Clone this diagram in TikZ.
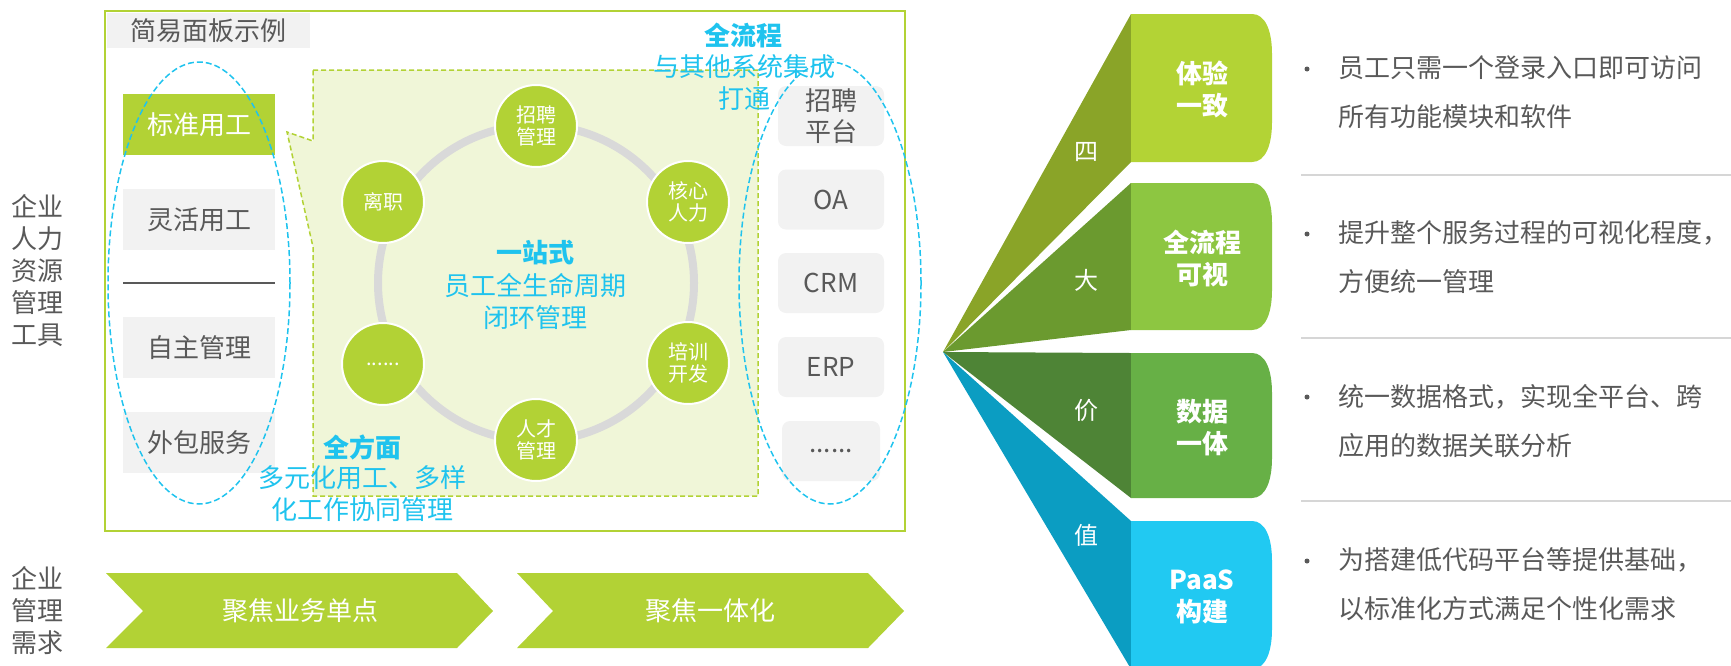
\documentclass[tikz,border=0pt]{standalone}
\usepackage{fontspec}
\setmainfont{Noto Sans CJK SC}
\newcommand\myfs[2]{\fontsize{#1}{#2}\selectfont}
\definecolor{lime}{HTML}{B2D235}
\definecolor{calfill}{HTML}{F0F6D8}
\definecolor{boxgray}{HTML}{F2F2F2}
\definecolor{txtgray}{HTML}{595959}
\definecolor{cyantxt}{HTML}{1FC3EE}
\definecolor{ringgray}{HTML}{D9D9D9}
\definecolor{triA}{HTML}{8AA428}
\definecolor{boxA}{HTML}{B3D335}
\definecolor{triB}{HTML}{6B9A2F}
\definecolor{boxB}{HTML}{8DC641}
\definecolor{triC}{HTML}{4E8436}
\definecolor{boxC}{HTML}{67B046}
\definecolor{triD}{HTML}{0B9DC2}
\definecolor{boxD}{HTML}{21C9F2}
\definecolor{sepgray}{HTML}{D6D6D6}
\begin{document}
\begin{tikzpicture}[x=1pt,y=-1pt,
  lbox/.style={fill=boxgray, minimum width=152pt, minimum height=61pt, inner sep=0pt, text=txtgray, font=\myfs{26}{31}},
  gbox/.style={lbox, fill=lime, text=white},
  rbox/.style={fill=boxgray, rounded corners=8pt, minimum width=106pt, minimum height=60pt, inner sep=0pt, text=txtgray, font=\myfs{26}{31}, align=center},
  circ/.style={circle, fill=lime, draw=white, line width=2pt, minimum size=82pt, inner sep=0pt, text=white, font=\myfs{20}{22}, align=center},
  cyanbold/.style={text=cyantxt, font=\bfseries\myfs{26}{32}, inner sep=0pt},
  cyanreg/.style={text=cyantxt, font=\myfs{26}{32}, align=center, inner sep=0pt},
  grayt/.style={text=txtgray, font=\myfs{26}{32}, align=center, inner sep=0pt},
  blueell/.style={draw=cyantxt, line width=1.5pt, dash pattern=on 6pt off 3pt},
  chev/.style={fill=lime},
  chevt/.style={text=white, font=\myfs{26}{32}},
  bandl/.style={text=white, font=\myfs{24}{28}},
  valt/.style={text=white, font=\bfseries\myfs{26}{32}, align=center, inner sep=0pt},
  bullett/.style={text=txtgray, font=\myfs{26}{49}, align=left, inner sep=0pt, anchor=west},
  dotb/.style={circle, fill=txtgray, minimum size=5pt, inner sep=0pt},
  sep/.style={draw=sepgray, line width=1.5pt}]
\useasboundingbox (0,0) rectangle (1731,665);

% left labels
\node[grayt] (lt1) at (37.5,271) {企业\\人力\\资源\\管理\\工具};
\node[grayt] (lt2) at (37.5,611) {企业\\管理\\需求};

% main frame
\draw[lime, line width=2.5pt] (105,11) rectangle (905,531);
\node[fill=boxgray, minimum width=203pt, minimum height=35pt, inner sep=0pt, text=txtgray, font=\myfs{26}{30}] (title) at (208.5,30.5) {简易面板示例};

% callout region
\draw[lime, fill=calfill, line width=1.5pt, dash pattern=on 5pt off 3pt]
  (313,70) -- (758,70) -- (758,496) -- (313,496) -- (313,247) -- (287,132) -- (313,141) -- cycle;

% ring
\draw[ringgray, line width=8pt] (536,283) circle [radius=158pt];
\node[circ] (c1) at (536,126) {招聘\\管理};
\node[circ] (c2) at (688,202) {核心\\人力};
\node[circ] (c3) at (688,363) {培训\\开发};
\node[circ] (c4) at (536,440) {人才\\管理};
\node[circ] (c5) at (383,364) {......};
\node[circ] (c6) at (383,202) {离职};

% centre texts
\node[cyanbold] (yz) at (535,253) {一站式};
\node[cyanreg] (yzt) at (535,301) {员工全生命周期\\闭环管理};

% left boxes
\node[gbox] (b1) at (199,124.5) {标准用工};
\node[lbox] (b2) at (199,219.5) {灵活用工};
\coordinate (l1) at (123,283);
\coordinate (l2) at (275,283);
\draw[txtgray, line width=2pt] (l1) -- (l2);
\node[lbox] (b3) at (199,347.5) {自主管理};
\node[lbox] (b4) at (199,442.5) {外包服务};
\draw[blueell] (199,283) ellipse [x radius=91pt, y radius=221pt];

% right boxes
\node[rbox] (r1) at (831,116) {招聘\\平台};
\node[rbox] (r2) at (831,199.5) {OA};
\node[rbox] (r3) at (831,283) {CRM};
\node[rbox] (r4) at (831,367) {ERP};
\node[rbox, minimum width=98pt] (r5) at (831,451) {......};
\draw[blueell] (830,283) ellipse [x radius=91pt, y radius=221pt];

% cyan texts
\node[cyanbold] (qlc) at (743,35) {全流程};
\node[cyanreg] (qlct) at (744,82.5) {与其他系统集成\\打通};
\node[cyanbold] (qfm) at (362,447) {全方面};
\node[cyanreg] (qfmt) at (362,494) {多元化用工、多样\\化工作协同管理};

% chevrons
\fill[chev] (106,573) -- (457,573) -- (493,611) -- (457,648) -- (106,648) -- (143,611) -- cycle;
\fill[chev] (517,573) -- (868,573) -- (904,611) -- (868,648) -- (517,648) -- (553,611) -- cycle;
\node[chevt] (ch1) at (300,611) {聚焦业务单点};
\node[chevt] (ch2) at (710,611) {聚焦一体化};

% fan
\coordinate (A) at (943,352);
\fill[triA] (A) -- (1131,14) -- (1131,162) -- cycle;
\fill[triB] (A) -- (1131,183) -- (1131,330) -- cycle;
\fill[triC] (A) -- (1131,353) -- (1131,498) -- cycle;
\fill[triD] (A) -- (1131,521) -- (1131,669) -- cycle;
\fill[boxA] (1131,14) -- (1252,14) .. controls (1265,14) and (1272,30) .. (1272,54) -- (1272,122) .. controls (1272,146) and (1265,162) .. (1252,162) -- (1131,162) -- cycle;
\fill[boxB] (1131,183) -- (1252,183) .. controls (1265,183) and (1272,199) .. (1272,223) -- (1272,290) .. controls (1272,314) and (1265,330) .. (1252,330) -- (1131,330) -- cycle;
\fill[boxC] (1131,353) -- (1252,353) .. controls (1265,353) and (1272,369) .. (1272,393) -- (1272,458) .. controls (1272,482) and (1265,498) .. (1252,498) -- (1131,498) -- cycle;
\fill[boxD] (1131,521) -- (1252,521) .. controls (1265,521) and (1272,537) .. (1272,561) -- (1272,629) .. controls (1272,653) and (1265,669) .. (1252,669) -- (1131,669) -- cycle;
\node[bandl] (s1) at (1086,152) {四};
\node[bandl] (s2) at (1086,280) {大};
\node[bandl] (s3) at (1086,410) {价};
\node[bandl] (s4) at (1086,535) {值};
\node[valt] (v1) at (1202,89) {体验\\一致};
\node[valt] (v2) at (1202,258.5) {全流程\\可视};
\node[valt] (v3) at (1202,427.5) {数据\\一体};
\node[valt] (v4) at (1202,596.5) {PaaS\\构建};

% bullets
\node[dotb] (d1) at (1307,69) {};
\node[bullett] (t1) at (1338,92.5) {员工只需一个登录入口即可访问\\所有功能模块和软件};
\node[dotb] (d2) at (1307,234) {};
\node[bullett] (t2) at (1338,257.5) {提升整个服务过程的可视化程度，\\方便统一管理};
\node[dotb] (d3) at (1307,397) {};
\node[bullett] (t3) at (1338,421) {统一数据格式，实现全平台、跨\\应用的数据关联分析};
\node[dotb] (d4) at (1307,561) {};
\node[bullett] (t4) at (1338,584) {为搭建低代码平台等提供基础，\\以标准化方式满足个性化需求};
\coordinate (sa1) at (1301,175); \coordinate (sa2) at (1731,175);
\coordinate (sb1) at (1301,338); \coordinate (sb2) at (1731,338);
\coordinate (sc1) at (1301,501); \coordinate (sc2) at (1731,501);
\draw[sep] (sa1) -- (sa2);
\draw[sep] (sb1) -- (sb2);
\draw[sep] (sc1) -- (sc2);
\end{tikzpicture}
\end{document}
